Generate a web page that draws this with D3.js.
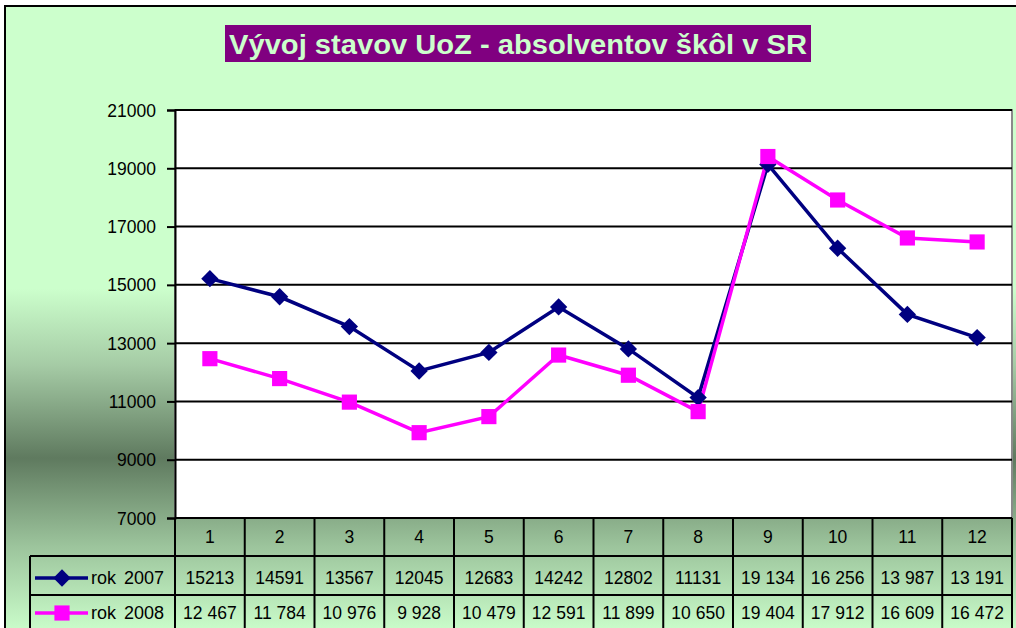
<!DOCTYPE html>
<html>
<head>
<meta charset="utf-8">
<script src="https://cdn.jsdelivr.net/npm/d3@7"></script>
<style>
body { margin: 0; background: #fff; }
#chart { width: 1016px; height: 628px; overflow: hidden; }
svg { font-family: Arial, "Liberation Sans", sans-serif; }
</style>
</head>
<body>
<div id="chart"></div>
<script>

var chartTitle = 'Vývoj stavov UoZ - absolventov škôl v SR';
var months = ['1', '2', '3', '4', '5', '6', '7', '8', '9', '10', '11', '12'];
var seriesNames = ['rok 2007', 'rok 2008'];
var values2007 = [15213, 14591, 13567, 12045, 12683, 14242, 12802, 11131, 19134, 16256, 13987, 13191];
var values2008 = [12467, 11784, 10976, 9928, 10479, 12591, 11899, 10650, 19404, 17912, 16609, 16472];
var labels2007 = ['15213', '14591', '13567', '12045', '12683', '14242', '12802', '11131', '19 134', '16 256', '13 987', '13 191'];
var labels2008 = ['12 467', '11 784', '10 976', '9 928', '10 479', '12 591', '11 899', '10 650', '19 404', '17 912', '16 609', '16 472'];
var yTicks = [7000, 9000, 11000, 13000, 15000, 17000, 19000, 21000];


class TableLineChart {


    constructor() {

        this._series = [{
            name: seriesNames[0],
            values: values2007,
            labels: labels2007,
            color: '#000080',
            marker: 'diamond'
        }, {
            name: seriesNames[1],
            values: values2008,
            labels: labels2008,
            color: '#ff00ff',
            marker: 'square'
        }];

        this._plot = { left: 175, right: 1012, top: 110, bottom: 518 };
        this._rows = [518, 556, 595, 634];
        this._tableLeft = 30;
    }


    renderTo(selector) {

        this._svg = d3.select(selector)
            .append('svg')
            .attr('width', 1016)
            .attr('height', 628);

        this._drawBackground();
        this._drawTitle();
        this._drawPlot();
        this._drawTable();

        return this;
    }


    _drawBackground() {

        var grad = this._svg.append('defs')
            .append('linearGradient')
            .attr('id', 'bg')
            .attr('gradientUnits', 'userSpaceOnUse')
            .attr('x1', 0).attr('y1', 6)
            .attr('x2', 0).attr('y2', 634);

        // light on top, dark band behind the lower plot, light again at the table
        grad.selectAll('stop')
            .data([[0, '#ccffcc'], [0.45, '#ccffcc'], [0.57, '#a6cca6'],
                   [0.72, '#5f7a5f'], [0.86, '#9cc49c'], [1, '#ccffcc']])
            .enter()
            .append('stop')
            .attr('offset', d => d[0])
            .attr('stop-color', d => d[1]);

        this._svg.append('rect')
            .attr('x', 5)
            .attr('y', 6)
            .attr('width', 1030)
            .attr('height', 640)
            .style('fill', 'url(#bg)')
            .style('stroke', '#000')
            .style('stroke-width', 2);
    }


    _drawTitle() {

        var g = this._svg.append('g');

        g.append('rect')
            .attr('x', 225)
            .attr('y', 25)
            .attr('width', 586)
            .attr('height', 37)
            .style('fill', '#800080');

        g.append('text')
            .attr('x', 518)
            .attr('y', 54)
            .attr('text-anchor', 'middle')
            .attr('textLength', 578)
            .attr('lengthAdjust', 'spacingAndGlyphs')
            .style('font-size', '27px')
            .style('font-weight', 'bold')
            .style('fill', '#ccffcc')
            .text(chartTitle);
    }


    _getXScale() {

        return d3.scaleBand()
            .domain(months)
            .range([this._plot.left, this._plot.right]);
    }


    _getYScale() {

        return d3.scaleLinear()
            .domain([7000, 21000])
            .range([this._plot.bottom, this._plot.top]);
    }


    _drawPlot() {

        var p = this._plot;
        var xScale = this._getXScale();
        var yScale = this._getYScale();
        var step = xScale.bandwidth();

        this._svg.append('rect')
            .attr('x', p.left)
            .attr('y', p.top)
            .attr('width', p.right - p.left)
            .attr('height', p.bottom - p.top)
            .style('fill', '#fff')
            .style('stroke', '#8a8a8a')
            .style('stroke-width', 2);

        // grid
        this._svg.append('g')
            .selectAll('line')
            .data(yTicks)
            .enter()
            .append('line')
            .attr('x1', p.left)
            .attr('x2', p.right)
            .attr('y1', d => yScale(d))
            .attr('y2', d => yScale(d))
            .style('stroke', '#000')
            .style('stroke-width', 2);

        var yAxis = this._svg.append('g')
            .attr('transform', 'translate(' + p.left + ',0)')
            .call(d3.axisLeft(yScale)
                .tickValues(yTicks)
                .tickSize(8)
                .tickPadding(11)
                .tickFormat(d3.format('d')));
        yAxis.select('.domain').style('stroke-width', 2);
        yAxis.selectAll('.tick line').style('stroke-width', 2);
        yAxis.selectAll('text')
            .style('font-size', '17.5px')
            .style('font-family', 'Arial, "Liberation Sans", sans-serif')
            .attr('dy', '0.35em')
            .style('fill', '#000');

        var line = d3.line()
            .x((d, i) => xScale(months[i]) + step / 2)
            .y(d => yScale(d));

        this._svg.selectAll('path.series')
            .data(this._series)
            .enter()
            .append('path')
            .attr('class', 'series')
            .attr('d', d => line(d.values))
            .style('fill', 'none')
            .style('stroke', d => d.color)
            .style('stroke-width', 3.5);

        this._series.forEach(function(s) {
            this._svg.append('g')
                .selectAll('path')
                .data(s.values)
                .enter()
                .append('path')
                .attr('d', this._markerPath(s.marker))
                .attr('transform', (d, i) => this._markerTransform(s.marker,
                    xScale(months[i]) + step / 2, yScale(d)))
                .style('fill', s.color);
        }.bind(this));
    }


    _markerPath(type) {

        return d3.symbol()
            .type(d3.symbolSquare)
            .size(type == 'diamond' ? 150 : 230)();
    }


    _markerTransform(type, x, y) {

        var t = 'translate(' + [x, y] + ')';
        return type == 'diamond' ? t + ' rotate(45)' : t;
    }


    _drawTable() {

        var p = this._plot;
        var rows = this._rows;
        var xScale = this._getXScale();
        var step = xScale.bandwidth();
        var g = this._svg.append('g');

        var hLines = [
            [p.left, rows[0]],
            [this._tableLeft, rows[1]],
            [this._tableLeft, rows[2]]
        ];
        g.selectAll('line.h')
            .data(hLines)
            .enter()
            .append('line')
            .attr('x1', d => d[0])
            .attr('x2', p.right)
            .attr('y1', d => d[1])
            .attr('y2', d => d[1])
            .style('stroke', '#000')
            .style('stroke-width', 2);

        var vLines = months.map(m => [xScale(m), rows[0]])
            .concat([[p.right, rows[0]], [this._tableLeft, rows[1]]]);
        g.selectAll('line.v')
            .data(vLines)
            .enter()
            .append('line')
            .attr('x1', d => d[0])
            .attr('x2', d => d[0])
            .attr('y1', d => d[1])
            .attr('y2', rows[3])
            .style('stroke', '#000')
            .style('stroke-width', 2);

        g.selectAll('text.month')
            .data(months)
            .enter()
            .append('text')
            .attr('x', d => xScale(d) + step / 2)
            .attr('y', (rows[0] + rows[1]) / 2)
            .attr('dy', '0.35em')
            .attr('text-anchor', 'middle')
            .style('font-size', '17.5px')
            .text(d => d);

        this._series.forEach(function(s, k) {
            var cy = k == 0 ? 578 : 613;

            g.selectAll('text.v' + k)
                .data(s.labels)
                .enter()
                .append('text')
                .attr('x', (d, i) => xScale(months[i]) + step / 2)
                .attr('y', cy)
                .attr('dy', '0.35em')
                .attr('text-anchor', 'middle')
                .style('font-size', '17.5px')
                .text(d => d);

            g.append('line')
                .attr('x1', 35)
                .attr('x2', 88)
                .attr('y1', cy)
                .attr('y2', cy)
                .style('stroke', s.color)
                .style('stroke-width', 3.5);
            g.append('path')
                .attr('d', this._markerPath(s.marker))
                .attr('transform', this._markerTransform(s.marker, 62, cy))
                .style('fill', s.color);
            g.append('text')
                .attr('x', 91)
                .attr('y', cy)
                .attr('dy', '0.35em')
                .style('font-size', '18px')
                .style('word-spacing', '3px')
                .text(s.name);
        }.bind(this));
    }
}


new TableLineChart().renderTo('#chart');

</script>
</body>
</html>
